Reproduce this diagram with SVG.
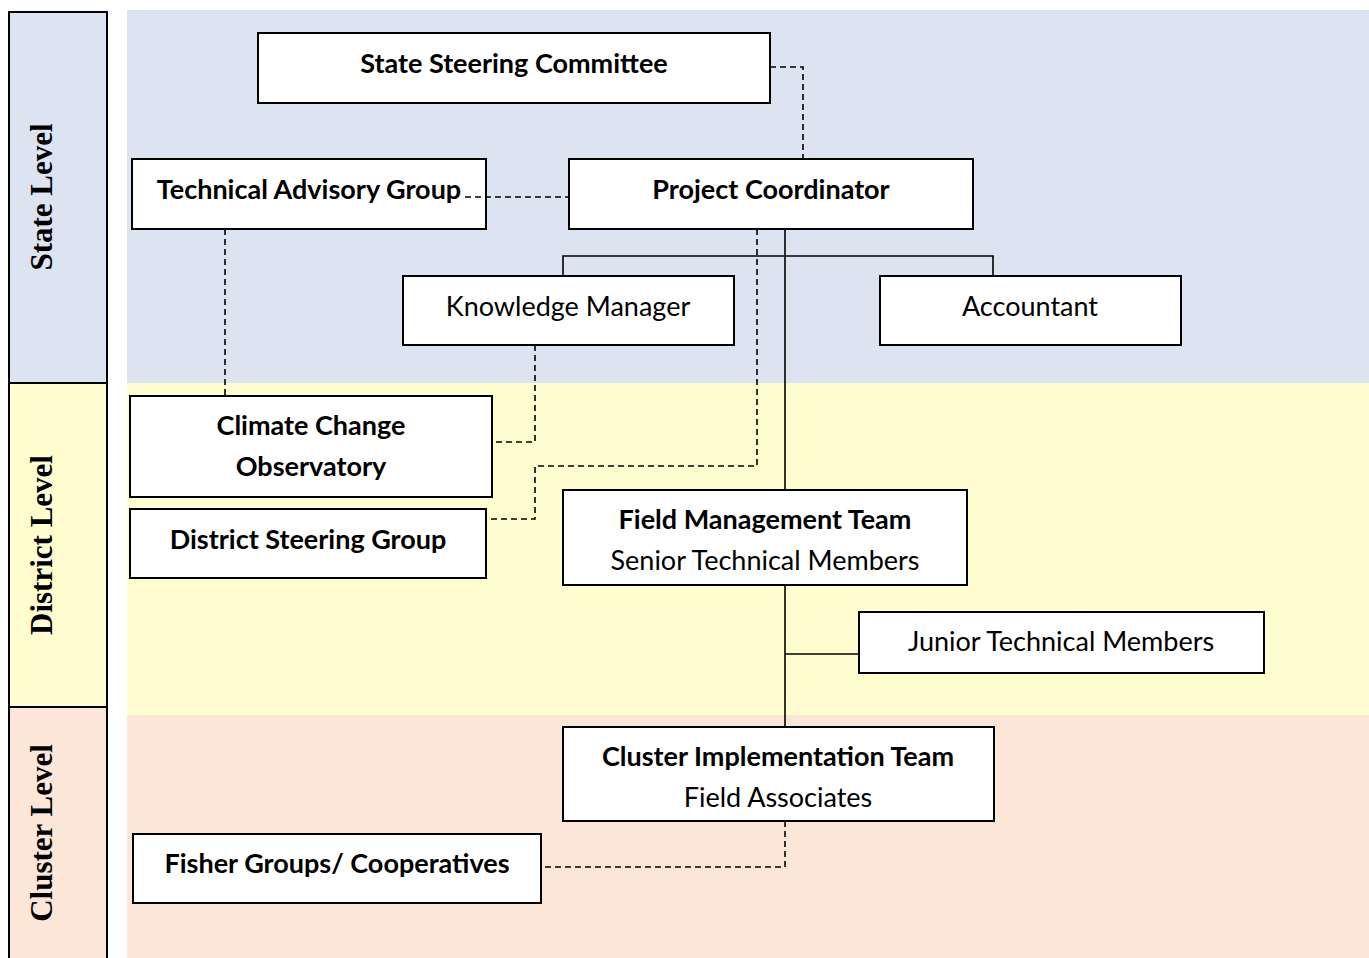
<svg xmlns="http://www.w3.org/2000/svg" width="1369" height="958" viewBox="0 0 1369 958">
<style>
.box{fill:#fff;stroke:#000;stroke-width:2}
.t{font-family:Lato,"Liberation Sans",sans-serif;font-size:27px;fill:#000;text-anchor:middle}
.b{font-weight:bold}
.lvl{font-family:"Liberation Serif",serif;font-weight:bold;font-size:31px;fill:#000;text-anchor:middle}
.solid{fill:none;stroke:#000;stroke-width:1.6}
.dash{fill:none;stroke:#000;stroke-width:1.6;stroke-dasharray:6 4}
</style>
<rect width="1369" height="958" fill="#fff"/>
<g id="bands">
<rect x="127" y="10" width="1242" height="373" fill="#DBE4F0"/>
<rect x="127" y="383" width="1242" height="332" fill="#FFFDD0"/>
<rect x="127" y="715" width="1242" height="243" fill="#FBE6D7"/>
</g>
<g id="level-labels">
<rect x="9" y="12" width="98" height="371" fill="#DBE4F0" stroke="#000" stroke-width="2"/>
<rect x="9" y="383" width="98" height="324" fill="#FFFDD0" stroke="#000" stroke-width="2"/>
<rect x="9" y="707" width="98" height="260" fill="#FBE6D7" stroke="#000" stroke-width="2"/>
<text class="lvl" transform="translate(52,197) rotate(-90)">State Level</text>
<text class="lvl" transform="translate(52,545) rotate(-90)">District Level</text>
<text class="lvl" transform="translate(52,833) rotate(-90)">Cluster Level</text>
</g>
<g id="state-steering-committee">
<rect class="box" x="258" y="33" width="512" height="70"/>
<text class="t b" x="514" y="73">State Steering Committee</text>
</g>
<g id="technical-advisory-group">
<rect class="box" x="132" y="159" width="354" height="70"/>
<text class="t b" x="309" y="199">Technical Advisory Group</text>
</g>
<g id="project-coordinator">
<rect class="box" x="569" y="159" width="404" height="70"/>
<text class="t b" x="771" y="199">Project Coordinator</text>
</g>
<g id="knowledge-manager">
<rect class="box" x="403" y="276" width="331" height="69"/>
<text class="t" x="568" y="316">Knowledge Manager</text>
</g>
<g id="accountant">
<rect class="box" x="880" y="276" width="301" height="69"/>
<text class="t" x="1030" y="316">Accountant</text>
</g>
<g id="climate-change-observatory">
<rect class="box" x="130" y="396" width="362" height="101"/>
<text class="t b" x="311" y="435">Climate Change</text>
<text class="t b" x="311" y="476">Observatory</text>
</g>
<g id="district-steering-group">
<rect class="box" x="130" y="509" width="356" height="69"/>
<text class="t b" x="308" y="549">District Steering Group</text>
</g>
<g id="field-management-team">
<rect class="box" x="563" y="490" width="404" height="95"/>
<text class="t b" x="765" y="529">Field Management Team</text>
<text class="t" x="765" y="570">Senior Technical Members</text>
</g>
<g id="junior-technical-members">
<rect class="box" x="859" y="612" width="405" height="61"/>
<text class="t" x="1061" y="651">Junior Technical Members</text>
</g>
<g id="cluster-implementation-team">
<rect class="box" x="563" y="727" width="431" height="94"/>
<text class="t b" x="778" y="766">Cluster Implementation Team</text>
<text class="t" x="778" y="807">Field Associates</text>
</g>
<g id="fisher-groups">
<rect class="box" x="133" y="834" width="408" height="69"/>
<text class="t b" x="337" y="873">Fisher Groups/ Cooperatives</text>
</g>
<g id="connectors">
<polyline class="dash" points="770,67 803,67 803,159"/>
<polyline class="dash" points="465,197 569,197"/>
<polyline class="dash" points="225,229 225,396"/>
<polyline class="solid" points="785,229 785,490"/>
<polyline class="solid" points="563,276 563,256 993,256 993,276"/>
<polyline class="dash" points="757,229 757,466 535,466 535,519 486,519"/>
<polyline class="dash" points="535,345 535,442 492,442"/>
<polyline class="solid" points="785,585 785,727"/>
<polyline class="solid" points="785,654 859,654"/>
<polyline class="dash" points="785,821 785,867 541,867"/>
</g>
</svg>
